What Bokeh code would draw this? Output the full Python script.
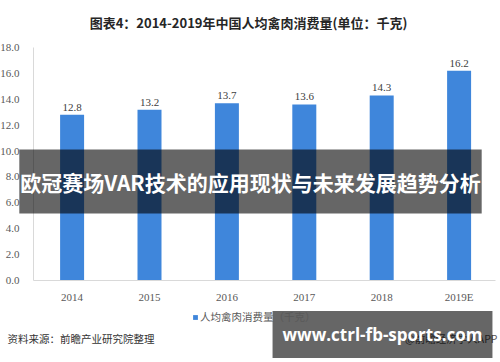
from bokeh.plotting import figure
from bokeh.models import (Range1d, FixedTicker, Label, ColumnDataSource, Legend,
                          LegendItem, NumeralTickFormatter)
from bokeh.embed import file_html
from bokeh.resources import INLINE
from bokeh.core.properties import value

# ---- data ----
years = ["2014", "2015", "2016", "2017", "2018", "2019E"]
consumption = [12.8, 13.2, 13.7, 13.6, 14.3, 16.2]
y_ticks = [0, 2, 4, 6, 8, 10, 12, 14, 16, 18]
title_text = "图表4：2014-2019年中国人均禽肉消费量(单位：千克)"
series_name = "人均禽肉消费量（千克）"
source_text = "资料来源：前瞻产业研究院整理"
credit_text = "@前瞻经济学人APP"
overlay_title = "欧冠赛场VAR技术的应用现状与未来发展趋势分析"
overlay_url = "www.ctrl-fb-sports.com"

W, H = 500, 362
# page-pixel layout of the chart (frame fills the whole canvas)
PX_L, PX_T = 0.0, 0.0
CAT0, CAT_STEP = 71.6, 77.4        # page x of first category, spacing
Y_ZERO, Y_PER_UNIT = 280.0, 233.0 / 18.0


def px2x(xa):
    return (xa - CAT0) / CAT_STEP


def px2y(ya):
    return (Y_ZERO - ya) / Y_PER_UNIT


X0, X1 = px2x(PX_L), px2x(PX_L + W)
Y0, Y1 = px2y(PX_T + H), px2y(PX_T)

p = figure(width=W, height=H, output_backend="svg", toolbar_location=None,
           x_range=Range1d(X0, X1), y_range=Range1d(Y0, Y1),
           min_border=0, min_border_left=0, min_border_right=0,
           min_border_top=0, min_border_bottom=0,
           background_fill_color="white", border_fill_color="white")
p.outline_line_color = None
p.xgrid.visible = False
p.ygrid.visible = False

idx = list(range(len(years)))
src = ColumnDataSource(dict(x=idx, y=consumption,
                            lbl=["%.1f" % v for v in consumption]))
bars = p.vbar(x="x", top="y", width=0.31, source=src,
              fill_color="#3f86db", line_color=None)
p.text(x="x", y="y", text="lbl", source=src, text_align="center",
       text_baseline="bottom", y_offset=-4,
       text_font=value("Liberation Serif"), text_font_size="11px",
       text_color="#404040")

# axes, pinned inside the frame
p.yaxis.fixed_location = px2x(33)
p.yaxis.bounds = (0, 18)
p.xaxis.fixed_location = 0
p.xaxis.bounds = (px2x(33), px2x(495))
p.yaxis.ticker = FixedTicker(ticks=y_ticks)
p.yaxis.formatter = NumeralTickFormatter(format="0.0")
p.xaxis.ticker = FixedTicker(ticks=idx)
p.xaxis.major_label_overrides = {i: y for i, y in enumerate(years)}
for ax in (p.xaxis, p.yaxis):
    ax.major_tick_line_color = None
    ax.minor_tick_line_color = None
    ax.axis_line_color = "#d9d9d9"
    ax.major_label_text_font = "Liberation Serif"
    ax.major_label_text_font_size = "11px"
    ax.major_label_text_color = "#595959"
p.yaxis.major_label_standoff = 8
p.xaxis.major_label_standoff = 4

# legend
legend = Legend(items=[LegendItem(label=series_name, renderers=[bars])],
                location=(192, 38), orientation="horizontal",
                glyph_width=6, glyph_height=6, label_standoff=2,
                label_text_font="Noto Sans CJK SC",
                label_text_font_size="10.5px", label_text_color="#595959",
                border_line_color=None, background_fill_alpha=0,
                padding=0, margin=0)
p.add_layout(legend)

# title
p.add_layout(Label(x=px2x(248), y=px2y(22), text=title_text,
                   text_align="center", text_baseline="middle",
                   text_font="Noto Sans CJK SC", text_font_style="bold",
                   text_font_size="13px", text_color="#262626"))
# source and credit
p.add_layout(Label(x=px2x(7), y=px2y(338), text=source_text,
                   text_align="left", text_baseline="middle",
                   text_font="Noto Sans CJK SC", text_font_size="10.5px",
                   text_color="#333333"))
p.add_layout(Label(x=px2x(497), y=px2y(338), text=credit_text,
                   text_align="right", text_baseline="middle",
                   text_font="Noto Sans CJK SC", text_font_size="10.5px",
                   text_color="#555555"))

# overlay banners
p.add_layout(Label(x=px2x(250), y=px2y(181), text=overlay_title,
                   text_align="center", text_baseline="middle",
                   text_font="Noto Sans CJK SC", text_font_style="bold",
                   text_font_size="21px", text_color="white",
                   background_fill_color="black", background_fill_alpha=0.6,
                   padding=dict(left=1, right=1, top=17, bottom=17)))
p.add_layout(Label(x=px2x(382), y=px2y(334), text=overlay_url,
                   text_align="center", text_baseline="middle",
                   text_font="Open Sans", text_font_style="bold",
                   text_font_size="17px", text_color="white",
                   background_fill_color="black", background_fill_alpha=0.6,
                   padding=dict(left=10, right=10, top=12, bottom=12)))

open("out.html", "w").write(file_html(p, INLINE))
